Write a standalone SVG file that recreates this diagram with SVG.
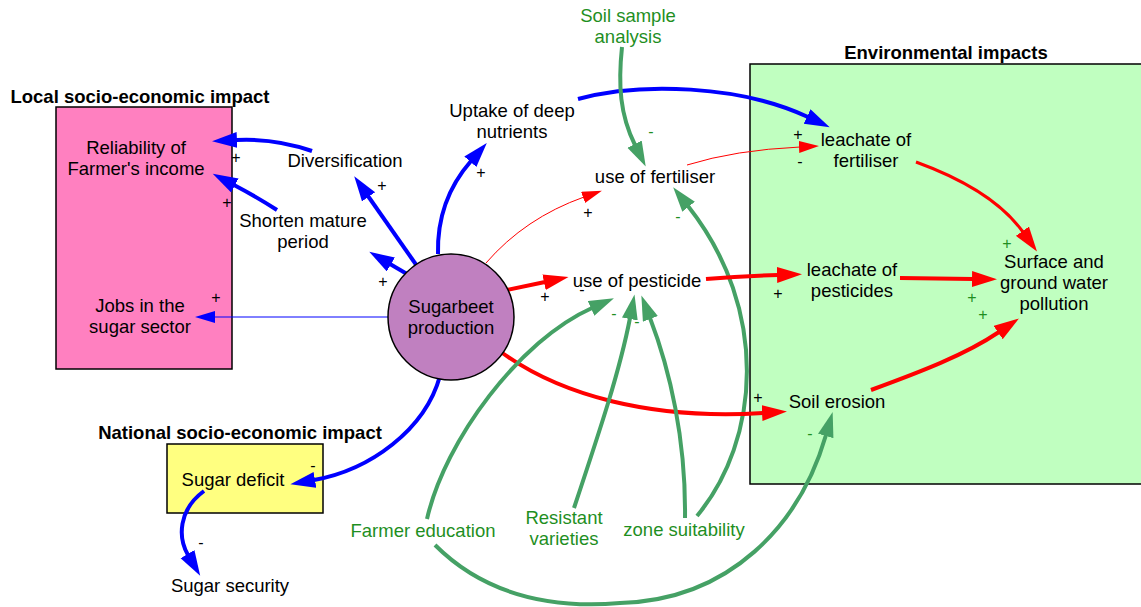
<svg xmlns="http://www.w3.org/2000/svg" width="1141" height="607" viewBox="0 0 1141 607">
<defs>
<style>
text{font-family:"Liberation Sans",Arial,sans-serif;font-size:18.5px;fill:#000;text-anchor:middle}
.t{font-weight:bold}
.g{fill:#1f8f1f}
.s{font-size:16px}
.gs{font-size:16px;fill:#1f8f1f}
.box{stroke:#000;stroke-width:1.5}
.cb{fill:none;stroke:#0000ff;stroke-width:4}
.cr{fill:none;stroke:#ff0000;stroke-width:4}
.cg{fill:none;stroke:#45a165;stroke-width:4}
.tb{fill:none;stroke:#0000ff;stroke-width:1}
.tr{fill:none;stroke:#ff0000;stroke-width:1}
</style>
<marker id="ab" markerUnits="userSpaceOnUse" markerWidth="27" markerHeight="18" refX="1" refY="8" orient="auto"><path d="M0,0 L25,8 L0,16 Z" fill="#0000ff"/></marker>
<marker id="ar" markerUnits="userSpaceOnUse" markerWidth="27" markerHeight="18" refX="1" refY="8" orient="auto"><path d="M0,0 L25,8 L0,16 Z" fill="#ff0000"/></marker>
<marker id="ag" markerUnits="userSpaceOnUse" markerWidth="27" markerHeight="18" refX="1" refY="8" orient="auto"><path d="M0,0 L25,8 L0,16 Z" fill="#45a165"/></marker>
<marker id="abs" markerUnits="userSpaceOnUse" markerWidth="22" markerHeight="14" refX="1" refY="6" orient="auto"><path d="M0,0 L20,6 L0,12 Z" fill="#0000ff"/></marker>
<marker id="ars" markerUnits="userSpaceOnUse" markerWidth="22" markerHeight="14" refX="1" refY="6" orient="auto"><path d="M0,0 L20,6 L0,12 Z" fill="#ff0000"/></marker>
</defs>
<rect width="1141" height="607" fill="#fff"/>

<g id="local-impact">
<text class="t" x="140" y="103">Local socio-economic impact</text>
<rect class="box" x="56" y="107" width="176" height="262" fill="#ff80c0"/>
</g>
<g id="env-impacts">
<text class="t" x="946" y="59">Environmental impacts</text>
<rect class="box" x="750" y="64" width="400" height="420" fill="#c0ffc0"/>
</g>
<g id="national-impact">
<text class="t" x="240" y="439">National socio-economic impact</text>
<rect class="box" x="167" y="444" width="156" height="69" fill="#ffff80"/>
</g>

<g id="connectors">
<path class="cb" d="M312,151 Q275,138 236,140" marker-end="url(#ab)"/>
<path class="cb" d="M277,210 Q255,196 234,185" marker-end="url(#ab)"/>
<path class="cb" d="M417,266 L368,196" marker-end="url(#ab)"/>
<path class="cb" d="M407,274 L390,264" marker-end="url(#ab)"/>
<path class="tb" d="M388,317 L214,317" marker-end="url(#abs)"/>
<path class="cb" d="M438,254 C437,215 450,185 471,161" marker-end="url(#ab)"/>
<path class="cb" d="M578,99 C640,82 740,85 808,117" marker-end="url(#ab)"/>
<path class="tr" d="M486,263 Q525,218 584,197" marker-end="url(#ars)"/>
<path class="tr" d="M687,165 Q735,150 800,147" marker-end="url(#ars)"/>
<path class="cg" d="M622,47 C618,85 620,115 635,145" marker-end="url(#ag)"/>
<path class="cg" d="M697,516 C760,440 770,310 688,206" marker-end="url(#ag)"/>
<path class="cr" d="M507,290 L545,282" marker-end="url(#ar)"/>
<path class="cr" d="M706,279 Q740,276 778,275" marker-end="url(#ar)"/>
<path class="cr" d="M900,278 L973,279" marker-end="url(#ar)"/>
<path class="cr" style="stroke-width:3" d="M916,162 C960,178 1000,200 1023,232" marker-end="url(#ar)"/>
<path class="cr" d="M871,390 C920,372 965,355 999,332" marker-end="url(#ar)"/>
<path class="cr" d="M501,352 C560,395 650,420 763,413" marker-end="url(#ar)"/>
<path class="cb" d="M440,376 C425,430 370,470 314,480" marker-end="url(#ab)"/>
<path class="cb" d="M204,491 C178,510 178,538 188,555" marker-end="url(#ab)"/>
<path class="cg" d="M427,519 C445,440 520,340 592,308" marker-end="url(#ag)"/>
<path class="cg" d="M574,508 C600,430 620,370 630,318" marker-end="url(#ag)"/>
<path class="cg" d="M685,518 C686,440 670,370 650,318" marker-end="url(#ag)"/>
<path class="cg" d="M435,545 C490,600 560,608 620,603 C730,600 800,525 826,435" marker-end="url(#ag)"/>
</g>

<g id="signs">
<text class="s" x="236" y="163">+</text>
<text class="s" x="227" y="208">+</text>
<text class="s" x="382" y="191">+</text>
<text class="s" x="383" y="287">+</text>
<text class="s" x="216" y="303">+</text>
<text class="s" x="481" y="178">+</text>
<text class="s" x="798" y="140">+</text>
<text class="s" x="588" y="218">+</text>
<text class="s" x="800" y="167">-</text>
<text class="s" x="545" y="302">+</text>
<text class="s" x="778" y="299">+</text>
<text class="s" x="758" y="403">+</text>
<text class="s" x="313" y="471">-</text>
<text class="s" x="201" y="548">-</text>
<text class="s" x="582" y="295">-</text>
<text class="gs" x="651" y="137">-</text>
<text class="gs" x="678" y="222">-</text>
<text class="gs" x="614" y="319">-</text>
<text class="gs" x="637" y="327">-</text>
<text class="gs" x="810" y="439">-</text>
<text class="gs" x="1007" y="249">+</text>
<text class="gs" x="972" y="303">+</text>
<text class="gs" x="983" y="320">+</text>
</g>

<g id="sugarbeet-production">
<circle cx="451" cy="317" r="63" fill="#c080c0" stroke="#000" stroke-width="1.5"/>
<text x="451" y="313">Sugarbeet</text>
<text x="451" y="334">production</text>
</g>
<g id="reliability"><text x="136" y="154">Reliability of</text><text x="136" y="175">Farmer's income</text></g>
<g id="diversification"><text x="345" y="167">Diversification</text></g>
<g id="shorten-mature"><text x="303" y="227">Shorten mature</text><text x="303" y="248">period</text></g>
<g id="jobs"><text x="140" y="312">Jobs in the</text><text x="140" y="333">sugar sector</text></g>
<g id="uptake"><text x="512" y="117">Uptake of deep</text><text x="512" y="138">nutrients</text></g>
<g id="soil-sample"><text class="g" x="628" y="22">Soil sample</text><text class="g" x="628" y="43">analysis</text></g>
<g id="use-fertiliser"><text x="655" y="183">use of fertiliser</text></g>
<g id="use-pesticide"><text x="637" y="287">use of pesticide</text></g>
<g id="leachate-fertiliser"><text x="866" y="146">leachate of</text><text x="866" y="167">fertiliser</text></g>
<g id="leachate-pesticides"><text x="852" y="276">leachate of</text><text x="852" y="297">pesticides</text></g>
<g id="water-pollution"><text x="1054" y="268">Surface and</text><text x="1054" y="289">ground water</text><text x="1054" y="310">pollution</text></g>
<g id="soil-erosion"><text x="837" y="408">Soil erosion</text></g>
<g id="sugar-deficit"><text x="233" y="486">Sugar deficit</text></g>
<g id="sugar-security"><text x="230" y="592">Sugar security</text></g>
<g id="farmer-education"><text class="g" x="423" y="537">Farmer education</text></g>
<g id="resistant-varieties"><text class="g" x="564" y="524">Resistant</text><text class="g" x="564" y="545">varieties</text></g>
<g id="zone-suitability"><text class="g" x="684" y="536">zone suitability</text></g>
</svg>
